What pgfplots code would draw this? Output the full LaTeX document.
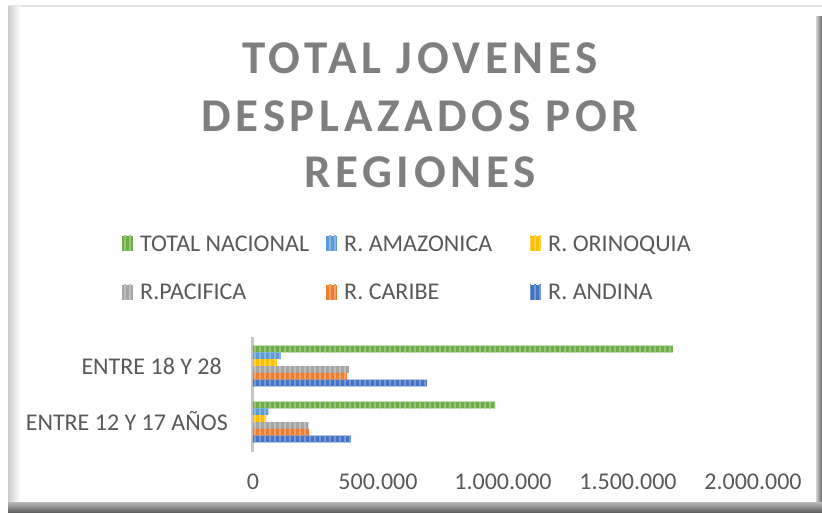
\documentclass[border=0pt]{standalone}
\usepackage{fontspec}
\setmainfont{Carlito}
\newfontfamily\titlefont{Carlito}[LetterSpace=10]
\usepackage{pgfplots}
\pgfplotsset{compat=1.18}
\usetikzlibrary{patterns.meta}
\definecolor{cGreen}{HTML}{70AD47}
\definecolor{cLBlue}{HTML}{5B9BD5}
\definecolor{cGold}{HTML}{FFC000}
\definecolor{cGray}{HTML}{A5A5A5}
\definecolor{cOrange}{HTML}{ED7D31}
\definecolor{cBlue}{HTML}{4472C4}
\definecolor{txt}{HTML}{595959}
\definecolor{ttl}{HTML}{7F7F7F}
\tikzset{stripe/.style={fill=#1, draw=none, postaction={pattern={Lines[angle=90,distance=5pt,line width=1.2pt]}, pattern color=#1!72!white}}}
\begin{document}
\begin{tikzpicture}
% background and frame
\fill[white] (0,0) rectangle (822pt,512pt);
\fill[gray!22] (8pt,505pt) rectangle (822pt,507pt);
\shade[left color=gray!40, right color=white] (8pt,10pt) rectangle (20pt,505pt);
\shade[left color=gray!35, right color=gray!80!black] (816pt,0pt) rectangle (822pt,495pt);
\shade[top color=gray!55, bottom color=gray!75!black] (8pt,0pt) rectangle (822pt,10pt);
% title
\node[anchor=base, text=ttl, inner sep=0pt] at (420pt,438.7pt) {\fontsize{47}{57}\titlefont\bfseries TOTAL JOVENES};
\node[anchor=base, text=ttl, inner sep=0pt] at (420pt,380.3pt) {\fontsize{47}{57}\titlefont\bfseries DESPLAZADOS POR};
\node[anchor=base, text=ttl, inner sep=0pt] at (420pt,324pt) {\fontsize{47}{57}\titlefont\bfseries REGIONES};
\begin{axis}[
  at={(253pt,60pt)}, anchor=south west,
  scale only axis, width=500pt, height=115pt,
  xbar, bar width=6.8pt,
  xmin=0, xmax=2000000, ymin=-0.535, ymax=1.518,
  ytick={0,1},
  yticklabels={ENTRE 12 Y 17 AÑOS, ENTRE 18 Y 28\hspace*{6pt}},
  xtick={0,500000,1000000,1500000,2000000},
  scaled x ticks=false,
  axis lines*=left,
  x axis line style={draw=none},
  y axis line style={-, draw=gray!45, line width=3pt},
  major tick length=0pt,
  tick style={draw=none},
  tick label style={font=\fontsize{24}{29}\selectfont, text=txt},
  xticklabel style={anchor=base, inner sep=0pt, yshift=-37.5pt,
    /pgf/number format/.cd, fixed, 1000 sep={.}, assume math mode=true},
  yticklabel style={anchor=base east, inner sep=0pt, xshift=-25pt, yshift=-8pt},
  legend columns=3,
  legend cell align=left,
  legend style={at={(-0.262,1.925)}, anchor=north west, draw=none, fill=none,
    inner sep=0pt, row sep=27pt, column sep=0pt,
    font=\fontsize{24}{29}\selectfont, text=txt, nodes={inner sep=0pt},
    /tikz/every odd column/.style={column sep=7pt}},
  legend image code/.code={\fill[#1] (0pt,-9pt) rectangle (11pt,6pt);},
]
\addplot[stripe=cGreen, bar shift=17pt] coordinates {(968000,0) (1679000,1)};
\addplot[stripe=cLBlue, bar shift=10.2pt] coordinates {(61000,0) (111000,1)};
\addplot[stripe=cGold, bar shift=3.4pt] coordinates {(52000,0) (95000,1)};
\addplot[stripe=cGray, bar shift=-3.4pt] coordinates {(221000,0) (383000,1)};
\addplot[stripe=cOrange, bar shift=-10.2pt] coordinates {(224000,0) (375000,1)};
\addplot[stripe=cBlue, bar shift=-17pt] coordinates {(391000,0) (695000,1)};
\legend{\makebox[186pt][l]{\strut TOTAL NACIONAL},
        \makebox[186pt][l]{\strut R. AMAZONICA},
        \makebox[186pt][l]{\strut R. ORINOQUIA},
        \makebox[186pt][l]{\strut R.PACIFICA},
        \makebox[186pt][l]{\strut R. CARIBE},
        \makebox[186pt][l]{\strut R. ANDINA}}
\end{axis}
\pgfresetboundingbox
\useasboundingbox (0,0) rectangle (822pt,512pt);
\end{tikzpicture}
\end{document}
